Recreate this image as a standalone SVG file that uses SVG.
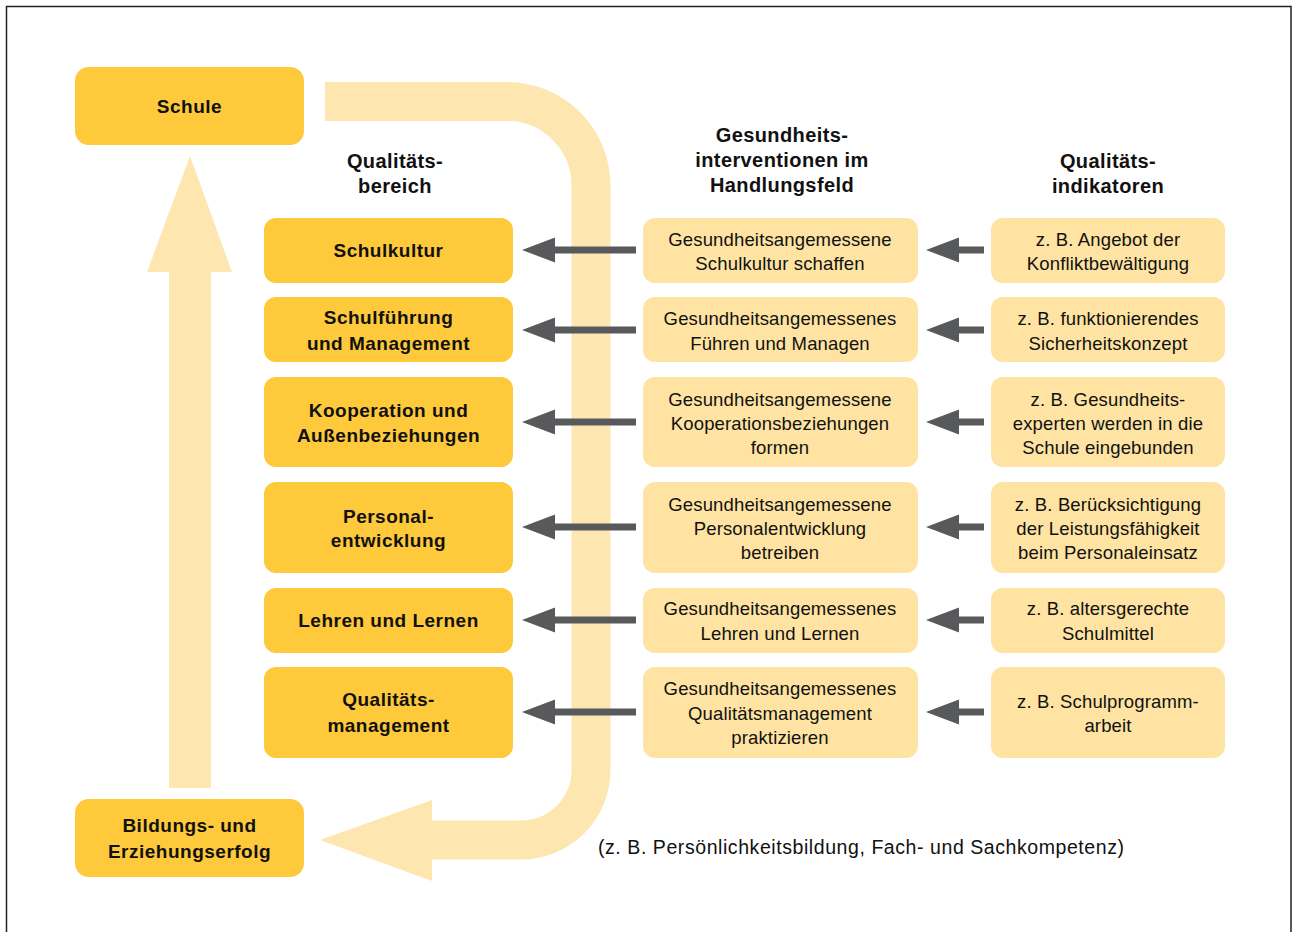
<svg xmlns="http://www.w3.org/2000/svg" width="1296" height="932" viewBox="0 0 1296 932">
<style>
.dark{fill:#fec93b}
.light{fill:#fee3a2}
.band{fill:#fee6b1}
.b{font-family:"Liberation Sans",Arial,sans-serif;font-weight:bold;font-size:19px;letter-spacing:0.5px;fill:#111;text-anchor:middle}
.h{font-family:"Liberation Sans",Arial,sans-serif;font-weight:bold;font-size:20px;letter-spacing:0.4px;fill:#111;text-anchor:middle}
.r{font-family:"Liberation Sans",Arial,sans-serif;font-size:18.5px;letter-spacing:0.15px;fill:#111;text-anchor:middle}
.gray{fill:#58595b}
</style>
<defs>
<g id="arrL"><polygon points="0,0 33,-12.5 33,12.5"/><rect x="32" y="-3.5" width="82" height="7"/></g>
<g id="arrS"><polygon points="0,0 33,-12.5 33,12.5"/><rect x="32" y="-3.5" width="26" height="7"/></g>
</defs>
<rect x="0" y="0" width="1296" height="932" fill="#fff"/>
<rect x="6.5" y="6.5" width="1284.5" height="960" fill="none" stroke="#222" stroke-width="1.5"/>

<g id="flow">
<path d="M325,101.5 H507 A84,84 0 0 1 591,185.5 V770 A70,70 0 0 1 521,840 H431" fill="none" stroke="#fee6b1" stroke-width="39"/>
<polygon class="band" points="432,800 432,881 320,840"/>
<polygon class="band" points="147,272 190,156 232,272 211,272 211,788 169,788 169,272"/>
</g>

<g id="connectors" class="gray">
<use href="#arrL" x="522" y="250"/>
<use href="#arrL" x="522" y="330"/>
<use href="#arrL" x="522" y="422"/>
<use href="#arrL" x="522" y="527"/>
<use href="#arrL" x="522" y="620"/>
<use href="#arrL" x="522" y="712"/>
<use href="#arrS" x="926" y="250"/>
<use href="#arrS" x="926" y="330"/>
<use href="#arrS" x="926" y="422"/>
<use href="#arrS" x="926" y="527"/>
<use href="#arrS" x="926" y="620"/>
<use href="#arrS" x="926" y="712"/>
</g>

<g id="schule"><rect class="dark" x="75" y="67" width="229" height="78" rx="14"/><text class="b" x="189.5" y="113">Schule</text></g>
<g id="bildung"><rect class="dark" x="75" y="799" width="229" height="78" rx="14"/><text class="b" x="189.5" y="832">Bildungs- und</text><text class="b" x="189.5" y="858">Erziehungserfolg</text></g>

<g id="headers">
<text class="h" x="395" y="168">Qualitäts-</text><text class="h" x="395" y="193">bereich</text>
<text class="h" x="782" y="142">Gesundheits-</text><text class="h" x="782" y="167">interventionen im</text><text class="h" x="782" y="192">Handlungsfeld</text>
<text class="h" x="1108" y="168">Qualitäts-</text><text class="h" x="1108" y="193">indikatoren</text>
</g>

<g id="q1"><rect class="dark" x="264" y="218" width="249" height="65" rx="12"/><text class="b" x="388.5" y="257">Schulkultur</text></g>
<g id="q2"><rect class="dark" x="264" y="297" width="249" height="65" rx="12"/><text class="b" x="388.5" y="324">Schulführung</text><text class="b" x="388.5" y="350">und Management</text></g>
<g id="q3"><rect class="dark" x="264" y="377" width="249" height="90" rx="12"/><text class="b" x="388.5" y="417">Kooperation und</text><text class="b" x="388.5" y="442">Außenbeziehungen</text></g>
<g id="q4"><rect class="dark" x="264" y="482" width="249" height="91" rx="12"/><text class="b" x="388.5" y="523">Personal-</text><text class="b" x="388.5" y="547">entwicklung</text></g>
<g id="q5"><rect class="dark" x="264" y="588" width="249" height="65" rx="12"/><text class="b" x="388.5" y="627">Lehren und Lernen</text></g>
<g id="q6"><rect class="dark" x="264" y="667" width="249" height="91" rx="12"/><text class="b" x="388.5" y="706">Qualitäts-</text><text class="b" x="388.5" y="732">management</text></g>

<g id="g1"><rect class="light" x="643" y="218" width="275" height="65" rx="12"/><text class="r" x="780" y="246">Gesundheitsangemessene</text><text class="r" x="780" y="270">Schulkultur schaffen</text></g>
<g id="g2"><rect class="light" x="643" y="297" width="275" height="65" rx="12"/><text class="r" x="780" y="325">Gesundheitsangemessenes</text><text class="r" x="780" y="350">Führen und Managen</text></g>
<g id="g3"><rect class="light" x="643" y="377" width="275" height="90" rx="12"/><text class="r" x="780" y="406">Gesundheitsangemessene</text><text class="r" x="780" y="430">Kooperationsbeziehungen</text><text class="r" x="780" y="454">formen</text></g>
<g id="g4"><rect class="light" x="643" y="482" width="275" height="91" rx="12"/><text class="r" x="780" y="511">Gesundheitsangemessene</text><text class="r" x="780" y="535">Personalentwicklung</text><text class="r" x="780" y="559">betreiben</text></g>
<g id="g5"><rect class="light" x="643" y="588" width="275" height="65" rx="12"/><text class="r" x="780" y="615">Gesundheitsangemessenes</text><text class="r" x="780" y="640">Lehren und Lernen</text></g>
<g id="g6"><rect class="light" x="643" y="667" width="275" height="91" rx="12"/><text class="r" x="780" y="695">Gesundheitsangemessenes</text><text class="r" x="780" y="720">Qualitätsmanagement</text><text class="r" x="780" y="744">praktizieren</text></g>

<g id="i1"><rect class="light" x="991" y="218" width="234" height="65" rx="12"/><text class="r" x="1108" y="246">z. B. Angebot der</text><text class="r" x="1108" y="270">Konfliktbewältigung</text></g>
<g id="i2"><rect class="light" x="991" y="297" width="234" height="65" rx="12"/><text class="r" x="1108" y="325">z. B. funktionierendes</text><text class="r" x="1108" y="350">Sicherheitskonzept</text></g>
<g id="i3"><rect class="light" x="991" y="377" width="234" height="90" rx="12"/><text class="r" x="1108" y="406">z. B. Gesundheits-</text><text class="r" x="1108" y="430">experten werden in die</text><text class="r" x="1108" y="454">Schule eingebunden</text></g>
<g id="i4"><rect class="light" x="991" y="482" width="234" height="91" rx="12"/><text class="r" x="1108" y="511">z. B. Berücksichtigung</text><text class="r" x="1108" y="535">der Leistungsfähigkeit</text><text class="r" x="1108" y="559">beim Personaleinsatz</text></g>
<g id="i5"><rect class="light" x="991" y="588" width="234" height="65" rx="12"/><text class="r" x="1108" y="615">z. B. altersgerechte</text><text class="r" x="1108" y="640">Schulmittel</text></g>
<g id="i6"><rect class="light" x="991" y="667" width="234" height="91" rx="12"/><text class="r" x="1108" y="708">z. B. Schulprogramm-</text><text class="r" x="1108" y="732">arbeit</text></g>

<text x="598" y="854" textLength="526" style="font-family:'Liberation Sans',Arial,sans-serif;font-size:19.5px;fill:#111">(z. B. Persönlichkeitsbildung, Fach- und Sachkompetenz)</text>
</svg>
